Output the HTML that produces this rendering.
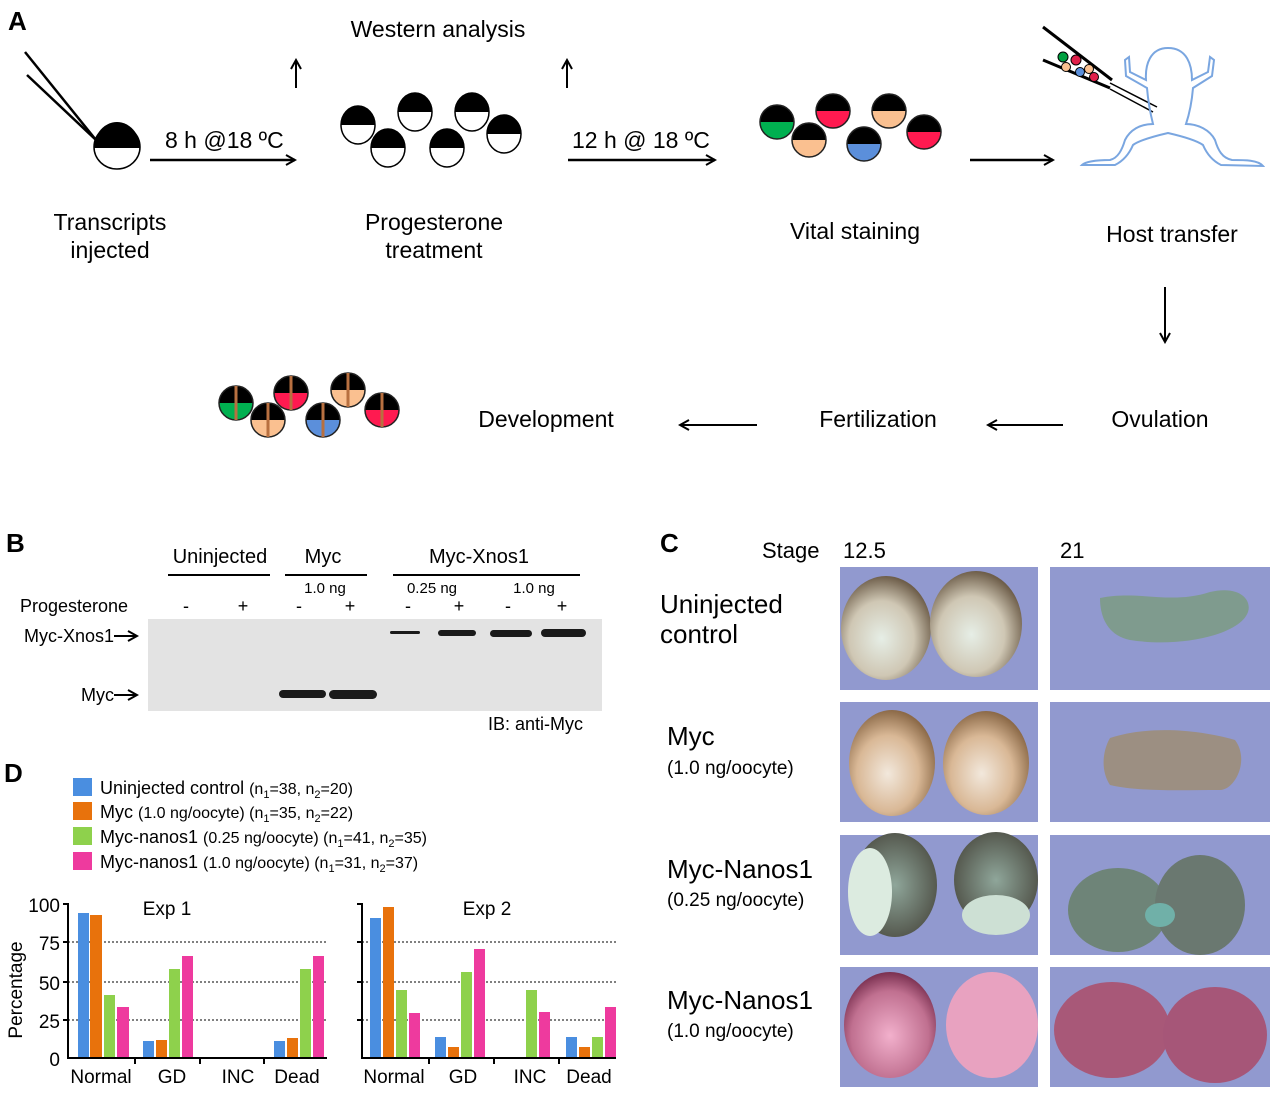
<!DOCTYPE html>
<html><head><meta charset="utf-8"><style>
body{margin:0;background:#fff}
svg{display:block;font-family:"Liberation Sans",sans-serif}
</style></head><body>
<svg width="1280" height="1097" viewBox="0 0 1280 1097" xmlns="http://www.w3.org/2000/svg">
<defs>
<g id="eW"><path d="M-17,0 A17,19 0 0 1 17,0Z" fill="#000"/><path d="M-17,0 A17,19 0 0 0 17,0Z" fill="#fff"/><ellipse rx="17" ry="19" fill="none" stroke="#000" stroke-width="1.5"/></g>
<g id="eG"><path d="M-17,0 A17,17 0 0 1 17,0Z" fill="#000"/><path d="M-17,0 A17,17 0 0 0 17,0Z" fill="#00b050"/><circle r="17" fill="none" stroke="#222" stroke-width="1.5"/></g>
<g id="eP"><path d="M-17,0 A17,17 0 0 1 17,0Z" fill="#000"/><path d="M-17,0 A17,17 0 0 0 17,0Z" fill="#fac090"/><circle r="17" fill="none" stroke="#222" stroke-width="1.5"/></g>
<g id="eR"><path d="M-17,0 A17,17 0 0 1 17,0Z" fill="#000"/><path d="M-17,0 A17,17 0 0 0 17,0Z" fill="#ff1a50"/><circle r="17" fill="none" stroke="#222" stroke-width="1.5"/></g>
<g id="eB"><path d="M-17,0 A17,17 0 0 1 17,0Z" fill="#000"/><path d="M-17,0 A17,17 0 0 0 17,0Z" fill="#5b8fdb"/><circle r="17" fill="none" stroke="#222" stroke-width="1.5"/></g>
<line id="cut" x1="0" y1="-17" x2="0" y2="17" stroke="#b87040" stroke-width="3"/>
<marker id="ah" markerWidth="12" markerHeight="12" refX="10" refY="6" orient="auto" markerUnits="userSpaceOnUse"><path d="M1,1 L10,6 L1,11" fill="none" stroke="#000" stroke-width="2"/></marker>
<radialGradient id="gBr" cx="45%" cy="60%" r="60%"><stop offset="0" stop-color="#e6eee6"/><stop offset="0.6" stop-color="#cfc7b4"/><stop offset="1" stop-color="#6e5e4a"/></radialGradient>
<radialGradient id="gOr" cx="45%" cy="60%" r="60%"><stop offset="0" stop-color="#f2e8dc"/><stop offset="0.6" stop-color="#d9b896"/><stop offset="1" stop-color="#8c6a48"/></radialGradient>
<radialGradient id="gGr" cx="50%" cy="50%" r="60%"><stop offset="0" stop-color="#8fa69a"/><stop offset="1" stop-color="#4a4a40"/></radialGradient>
<radialGradient id="gPk" cx="50%" cy="60%" r="60%"><stop offset="0" stop-color="#f2b0cc"/><stop offset="0.7" stop-color="#c07090"/><stop offset="1" stop-color="#7a3050"/></radialGradient>
</defs>

<text x="8" y="30" font-size="26" font-weight="bold">A</text>
<line x1="25" y1="52" x2="96" y2="140" stroke="#000" stroke-width="2.5"/>
<line x1="27" y1="75" x2="96" y2="140" stroke="#000" stroke-width="2.5"/>
<g transform="translate(117,148)"><path d="M-23,0 A23,26 0 0 1 23,0Z" fill="#000"/><path d="M-23,0 A23,22 0 0 0 23,0Z" fill="#fff"/><ellipse cx="0" cy="-1" rx="23" ry="22" fill="none" stroke="#000" stroke-width="1.5"/></g>
<text x="165" y="148" font-size="23">8 h @18 ºC</text>
<line x1="150" y1="160" x2="295" y2="160" stroke="#000" stroke-width="2.5" marker-end="url(#ah)"/>
<line x1="296" y1="88" x2="296" y2="60" stroke="#000" stroke-width="2" marker-end="url(#ah)"/>
<line x1="567" y1="88" x2="567" y2="60" stroke="#000" stroke-width="2" marker-end="url(#ah)"/>
<text x="438" y="37" font-size="23" text-anchor="middle">Western analysis</text>
<use href="#eW" x="358" y="125"/><use href="#eW" x="415" y="112"/><use href="#eW" x="472" y="112"/>
<use href="#eW" x="388" y="148"/><use href="#eW" x="447" y="148"/><use href="#eW" x="504" y="134"/>
<text x="572" y="148" font-size="23">12 h @ 18 ºC</text>
<line x1="568" y1="160" x2="715" y2="160" stroke="#000" stroke-width="2.5" marker-end="url(#ah)"/>
<use href="#eG" x="777" y="122"/><use href="#eP" x="809" y="140"/><use href="#eR" x="833" y="111"/>
<use href="#eB" x="864" y="144"/><use href="#eP" x="889" y="111"/><use href="#eR" x="924" y="132"/>
<line x1="970" y1="160" x2="1053" y2="160" stroke="#000" stroke-width="2.5" marker-end="url(#ah)"/>
<line x1="1043" y1="27" x2="1112" y2="80" stroke="#000" stroke-width="3"/>
<line x1="1043" y1="60" x2="1110" y2="88" stroke="#000" stroke-width="3"/>
<line x1="1110" y1="83" x2="1157" y2="107" stroke="#000" stroke-width="1.5"/>
<line x1="1110" y1="89" x2="1153" y2="112" stroke="#000" stroke-width="1.5"/>
<circle cx="1063" cy="57" r="5" fill="#00a040" stroke="#000"/><circle cx="1076" cy="60" r="5" fill="#e0204a" stroke="#000"/>
<circle cx="1066" cy="67" r="4.5" fill="#fac090" stroke="#000"/><circle cx="1080" cy="72" r="4.5" fill="#5b8fdb" stroke="#000"/>
<circle cx="1089" cy="69" r="4.5" fill="#fac090" stroke="#000"/><circle cx="1094" cy="77" r="4.5" fill="#e0204a" stroke="#000"/>
<path d="M1168,48 C1150,48 1145,65 1146,80 L1130,72 L1129,57 L1125,60 L1126,76 L1147,88 C1148,100 1150,112 1153,124 C1140,124 1130,130 1125,140 C1122,150 1118,158 1110,160 C1095,160 1085,162 1082,165 L1115,165 C1125,160 1130,152 1133,145 C1140,140 1155,136 1168,133 C1181,136 1196,140 1203,145 C1206,152 1211,160 1221,165 L1263,166 C1258,160 1245,160 1232,160 C1222,158 1218,150 1215,140 C1210,130 1198,124 1186,124 C1190,112 1192,100 1193,88 L1212,76 L1214,60 L1210,57 L1208,72 L1192,80 C1192,65 1187,48 1168,48Z" fill="none" stroke="#7aa6e0" stroke-width="2"/>
<g font-size="23" text-anchor="middle">
<text x="110" y="230">Transcripts</text><text x="110" y="258">injected</text>
<text x="434" y="230">Progesterone</text><text x="434" y="258">treatment</text>
<text x="855" y="239">Vital staining</text>
<text x="1172" y="242">Host transfer</text>
<text x="1160" y="427">Ovulation</text>
<text x="878" y="427">Fertilization</text>
<text x="546" y="427">Development</text>
</g>
<line x1="1165" y1="287" x2="1165" y2="342" stroke="#000" stroke-width="2" marker-end="url(#ah)"/>
<line x1="1063" y1="425" x2="988" y2="425" stroke="#000" stroke-width="2" marker-end="url(#ah)"/>
<line x1="757" y1="425" x2="680" y2="425" stroke="#000" stroke-width="2" marker-end="url(#ah)"/>
<g><use href="#eG" x="236" y="403"/><use href="#cut" x="236" y="403"/>
<use href="#eP" x="268" y="420"/><use href="#cut" x="268" y="420"/>
<use href="#eR" x="291" y="393"/><use href="#cut" x="291" y="393"/>
<use href="#eB" x="323" y="420"/><use href="#cut" x="323" y="420"/>
<use href="#eP" x="348" y="390"/><use href="#cut" x="348" y="390"/>
<use href="#eR" x="382" y="410"/><use href="#cut" x="382" y="410"/></g>

<text x="6" y="552" font-size="26" font-weight="bold">B</text>
<g font-size="20" text-anchor="middle"><text x="220" y="563">Uninjected</text><text x="323" y="563">Myc</text><text x="479" y="563">Myc-Xnos1</text></g>
<g stroke="#000" stroke-width="2"><line x1="168" y1="575" x2="270" y2="575"/><line x1="285" y1="575" x2="367" y2="575"/><line x1="393" y1="575" x2="580" y2="575"/></g>
<g font-size="15" text-anchor="middle"><text x="325" y="593">1.0 ng</text><text x="432" y="593">0.25 ng</text><text x="534" y="593">1.0 ng</text></g>
<g font-size="18" text-anchor="middle"><text x="186" y="612">-</text><text x="243" y="612">+</text><text x="299" y="612">-</text><text x="350" y="612">+</text><text x="408" y="612">-</text><text x="459" y="612">+</text><text x="508" y="612">-</text><text x="562" y="612">+</text></g>
<text x="20" y="612" font-size="18">Progesterone</text>
<rect x="148" y="619" width="454" height="92" fill="#e3e3e3"/>
<g fill="#1a1a1a"><rect x="390" y="631" width="30" height="3" rx="1.5"/><rect x="438" y="630" width="38" height="6" rx="3"/><rect x="490" y="630" width="42" height="7" rx="3.5"/><rect x="541" y="629" width="45" height="8" rx="4"/>
<rect x="279" y="690" width="47" height="8" rx="4"/><rect x="329" y="690" width="48" height="9" rx="4.5"/></g>
<text x="114" y="642" font-size="18" text-anchor="end">Myc-Xnos1</text>
<line x1="114" y1="636" x2="137" y2="636" stroke="#000" stroke-width="2" marker-end="url(#ah)"/>
<text x="114" y="701" font-size="18" text-anchor="end">Myc</text>
<line x1="114" y1="695" x2="137" y2="695" stroke="#000" stroke-width="2" marker-end="url(#ah)"/>
<text x="488" y="730" font-size="18">IB: anti-Myc</text>

<text x="660" y="552" font-size="26" font-weight="bold">C</text>
<text x="762" y="558" font-size="22">Stage</text><text x="843" y="558" font-size="22">12.5</text><text x="1060" y="558" font-size="22">21</text>
<g font-size="26"><text x="660" y="613">Uninjected</text><text x="660" y="643">control</text>
<text x="667" y="745">Myc</text><text x="667" y="878">Myc-Nanos1</text><text x="667" y="1009">Myc-Nanos1</text></g>
<g font-size="19"><text x="667" y="774">(1.0 ng/oocyte)</text><text x="667" y="906">(0.25 ng/oocyte)</text><text x="667" y="1037">(1.0 ng/oocyte)</text></g>
<g fill="#9199cf"><rect x="840" y="567" width="198" height="123"/><rect x="1050" y="567" width="220" height="123"/>
<rect x="840" y="702" width="198" height="120"/><rect x="1050" y="702" width="220" height="120"/>
<rect x="840" y="835" width="198" height="120"/><rect x="1050" y="835" width="220" height="120"/>
<rect x="840" y="967" width="198" height="120"/><rect x="1050" y="967" width="220" height="120"/></g>
<ellipse cx="886" cy="628" rx="45" ry="52" fill="url(#gBr)"/><ellipse cx="976" cy="624" rx="46" ry="53" fill="url(#gBr)"/>
<path d="M1100,598 C1140,590 1170,605 1210,592 C1240,585 1252,600 1248,612 C1240,635 1180,648 1130,640 C1110,636 1100,620 1100,598Z" fill="#7f9b8e"/>
<ellipse cx="892" cy="763" rx="43" ry="53" fill="url(#gOr)"/><ellipse cx="986" cy="763" rx="43" ry="52" fill="url(#gOr)"/>
<path d="M1110,738 C1150,725 1200,730 1235,740 C1250,760 1235,790 1220,790 C1180,790 1140,792 1110,785 C1100,770 1103,750 1110,738Z" fill="#9c8f82"/>
<ellipse cx="895" cy="885" rx="42" ry="52" fill="url(#gGr)"/><ellipse cx="870" cy="892" rx="22" ry="44" fill="#dcebe0"/>
<ellipse cx="996" cy="880" rx="42" ry="48" fill="url(#gGr)"/><ellipse cx="996" cy="915" rx="34" ry="20" fill="#cde0d4"/>
<ellipse cx="1118" cy="910" rx="50" ry="42" fill="#6e8478"/><ellipse cx="1200" cy="905" rx="45" ry="50" fill="#6a7870"/><ellipse cx="1160" cy="915" rx="15" ry="12" fill="#70b0a8"/>
<ellipse cx="890" cy="1025" rx="46" ry="53" fill="url(#gPk)"/><ellipse cx="992" cy="1025" rx="46" ry="53" fill="#e8a2c0"/>
<ellipse cx="1112" cy="1030" rx="58" ry="48" fill="#a85878"/><ellipse cx="1215" cy="1035" rx="52" ry="48" fill="#a65678"/>

<text x="4" y="782" font-size="26" font-weight="bold">D</text>
<rect x="73" y="778" width="19" height="18" fill="#4a8ee0"/><rect x="73" y="802" width="19" height="18" fill="#e8720c"/>
<rect x="73" y="827" width="19" height="18" fill="#8ed14c"/><rect x="73" y="852" width="19" height="18" fill="#ee3a9e"/>
<g font-size="18"><text x="100" y="794">Uninjected control <tspan font-size="16">(n<tspan font-size="11" dy="4">1</tspan><tspan dy="-4">=38, n</tspan><tspan font-size="11" dy="4">2</tspan><tspan dy="-4">=20)</tspan></tspan></text>
<text x="100" y="818">Myc <tspan font-size="16">(1.0 ng/oocyte) (n<tspan font-size="11" dy="4">1</tspan><tspan dy="-4">=35, n</tspan><tspan font-size="11" dy="4">2</tspan><tspan dy="-4">=22)</tspan></tspan></text>
<text x="100" y="843">Myc-nanos1 <tspan font-size="16">(0.25 ng/oocyte) (n<tspan font-size="11" dy="4">1</tspan><tspan dy="-4">=41, n</tspan><tspan font-size="11" dy="4">2</tspan><tspan dy="-4">=35)</tspan></tspan></text>
<text x="100" y="868">Myc-nanos1 <tspan font-size="16">(1.0 ng/oocyte) (n<tspan font-size="11" dy="4">1</tspan><tspan dy="-4">=31, n</tspan><tspan font-size="11" dy="4">2</tspan><tspan dy="-4">=37)</tspan></tspan></text></g>
<g stroke="#000" stroke-width="1" stroke-dasharray="2,2"><line x1="68" y1="942" x2="327" y2="942"/><line x1="68" y1="982" x2="327" y2="982"/><line x1="68" y1="1020" x2="327" y2="1020"/>
<line x1="362" y1="942" x2="616" y2="942"/><line x1="362" y1="982" x2="616" y2="982"/><line x1="362" y1="1020" x2="616" y2="1020"/></g>
<g>
<rect x="78" y="913" width="11" height="145" fill="#4a8ee0"/><rect x="90" y="915" width="12" height="143" fill="#e8720c"/><rect x="104" y="995" width="11" height="63" fill="#8ed14c"/><rect x="117" y="1007" width="12" height="51" fill="#ee3a9e"/>
<rect x="143" y="1041" width="11" height="17" fill="#4a8ee0"/><rect x="156" y="1040" width="11" height="18" fill="#e8720c"/><rect x="169" y="969" width="11" height="89" fill="#8ed14c"/><rect x="182" y="956" width="11" height="102" fill="#ee3a9e"/>
<rect x="274" y="1041" width="11" height="17" fill="#4a8ee0"/><rect x="287" y="1038" width="11" height="20" fill="#e8720c"/><rect x="300" y="969" width="11" height="89" fill="#8ed14c"/><rect x="313" y="956" width="11" height="102" fill="#ee3a9e"/>
<rect x="370" y="918" width="11" height="140" fill="#4a8ee0"/><rect x="383" y="907" width="11" height="151" fill="#e8720c"/><rect x="396" y="990" width="11" height="68" fill="#8ed14c"/><rect x="409" y="1013" width="11" height="45" fill="#ee3a9e"/>
<rect x="435" y="1037" width="11" height="21" fill="#4a8ee0"/><rect x="448" y="1047" width="11" height="11" fill="#e8720c"/><rect x="461" y="972" width="11" height="86" fill="#8ed14c"/><rect x="474" y="949" width="11" height="109" fill="#ee3a9e"/>
<rect x="526" y="990" width="11" height="68" fill="#8ed14c"/><rect x="539" y="1012" width="11" height="46" fill="#ee3a9e"/>
<rect x="566" y="1037" width="11" height="21" fill="#4a8ee0"/><rect x="579" y="1047" width="11" height="11" fill="#e8720c"/><rect x="592" y="1037" width="11" height="21" fill="#8ed14c"/><rect x="605" y="1007" width="11" height="51" fill="#ee3a9e"/>
</g>
<g stroke="#000" stroke-width="2" fill="none">
<path d="M68,903 V1058 H327"/><path d="M63,904 H68 M63,942 H68 M63,982 H68 M63,1020 H68 M135,1058 v6 M200,1058 v6 M264,1058 v6"/>
<path d="M362,903 V1058 H616"/><path d="M357,904 H362 M357,942 H362 M357,982 H362 M357,1020 H362 M429,1058 v6 M494,1058 v6 M559,1058 v6"/>
</g>
<g font-size="19" text-anchor="end"><text x="60" y="912">100</text><text x="60" y="950">75</text><text x="60" y="990">50</text><text x="60" y="1028">25</text><text x="60" y="1066">0</text></g>
<text x="22" y="990" font-size="19" text-anchor="middle" transform="rotate(-90 22 990)">Percentage</text>
<text x="167" y="915" font-size="19" text-anchor="middle">Exp 1</text><text x="487" y="915" font-size="19" text-anchor="middle">Exp 2</text>
<g font-size="19" text-anchor="middle"><text x="101" y="1083">Normal</text><text x="172" y="1083">GD</text><text x="238" y="1083">INC</text><text x="297" y="1083">Dead</text>
<text x="394" y="1083">Normal</text><text x="463" y="1083">GD</text><text x="530" y="1083">INC</text><text x="589" y="1083">Dead</text></g>
</svg>
</body></html>
